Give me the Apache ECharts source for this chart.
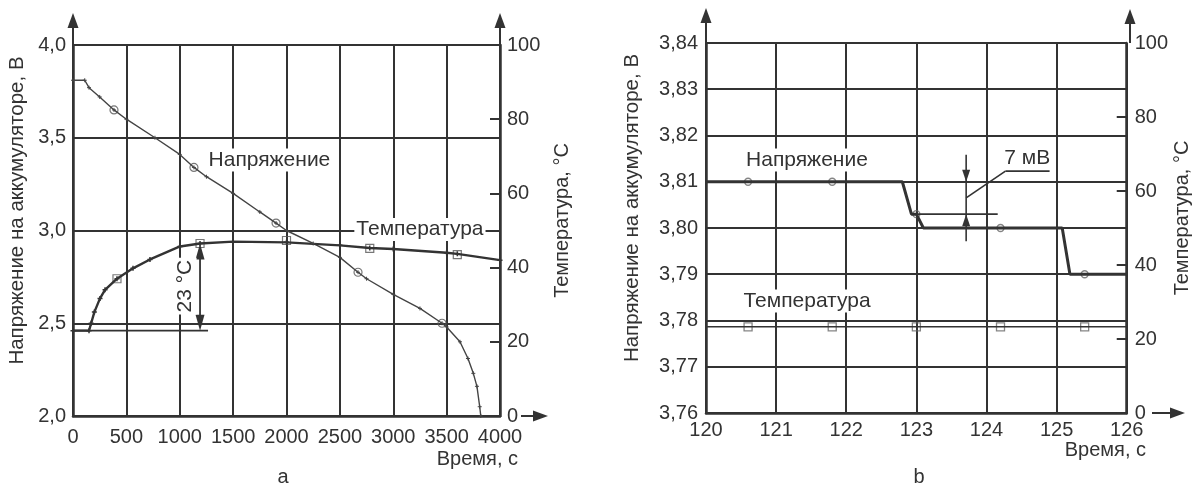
<!DOCTYPE html>
<html>
<head>
<meta charset="utf-8">
<script src="https://cdn.jsdelivr.net/npm/echarts/dist/echarts.min.js"></script>
<style>
  html, body { margin: 0; padding: 0; background: #fff; }
  #main { width: 1193px; height: 488px; }
</style>
</head>
<body>
<div id="main"></div>
<script>
// ---- chart a: full discharge ----
const timeA = [0, 110, 150, 250, 384, 500, 768, 1000, 1133, 1250, 1500, 1750, 1902, 2000, 2250, 2500, 2670, 2750, 3000, 3250, 3457, 3500, 3625, 3700, 3750, 3784, 3810, 3820];
const voltA = [3.81, 3.81, 3.77, 3.72, 3.65, 3.60, 3.50, 3.41, 3.34, 3.29, 3.20, 3.10, 3.04, 3.00, 2.93, 2.855, 2.775, 2.74, 2.656, 2.58, 2.50, 2.48, 2.40, 2.31, 2.23, 2.16, 2.05, 2.0];
const voltMarkTimeA = [384, 1133, 1902, 2670, 3457];
const voltMarkA = [3.65, 3.34, 3.04, 2.775, 2.50];

const tempTimeA = [0, 150, 170, 200, 253, 300, 412, 562, 721, 1002, 1190, 1500, 2000, 2500, 2780, 3000, 3500, 3600, 4000];
const tempA = [23, 23, 25, 28, 31.7, 34, 37, 39.8, 42.2, 45.7, 46.5, 47, 46.8, 46, 45.3, 45, 44, 43.7, 42];
const tempMarkTimeA = [412, 1190, 2000, 2780, 3600];
const tempMarkA = [37, 46.5, 47.3, 45.2, 43.5];

// ---- chart b: zoom around 120..126 s ----
const timeB = [120, 122.8, 122.93, 123.0, 123.1, 125.08, 125.19, 126];
const voltB = [3.81, 3.81, 3.803, 3.803, 3.80, 3.80, 3.79, 3.79];
const markTimeB = [120.6, 121.8, 123.0, 124.2, 125.4];
const voltMarkB = [3.81, 3.81, 3.803, 3.80, 3.79];
const tempTimeB = [120, 126];
const tempB = [23.3, 23.3];
const tempMarkB = [23.3, 23.3, 23.3, 23.3, 23.3];

const zip = (a, b) => a.map((v, i) => [v, b[i]]);

const INK = '#333';
const FONT = 'Liberation Sans, Arial, sans-serif';
const FS = 20;

const G0 = { left: 73, top: 45, width: 427, height: 371 };
const G1 = { left: 706, top: 43, width: 424, height: 370 };

const comma = d => v => v.toFixed(d).replace('.', ',');

function xAx(gi, min, max, interval, margin) {
  return {
    type: 'value', gridIndex: gi, min, max, interval,
    axisLine: { show: true, lineStyle: { color: INK, width: 2.5 } },
    axisTick: { show: false },
    splitLine: { show: true, lineStyle: { color: INK, width: 2 } },
    axisLabel: { color: INK, fontSize: FS, fontFamily: FONT, margin, showMinLabel: true, showMaxLabel: true, formatter: v => String(v) }
  };
}
function yVolt(gi, min, max, interval, dec, gap, margin) {
  return {
    type: 'value', gridIndex: gi, position: 'left', min, max, interval,
    name: 'Напряжение на аккумуляторе, В', nameLocation: 'middle', nameRotate: 90, nameGap: gap,
    nameTextStyle: { color: INK, fontSize: 20.5, fontFamily: FONT, padding: [0, 0, 0, 40] },
    axisLine: { show: true, onZero: false, lineStyle: { color: INK, width: 2.5 } },
    axisTick: { show: false },
    splitLine: { show: true, lineStyle: { color: INK, width: 2 } },
    axisLabel: { color: INK, fontSize: FS, fontFamily: FONT, margin, formatter: comma(dec) }
  };
}
function yTemp(gi, gap, margin) {
  return {
    type: 'value', gridIndex: gi, position: 'right', min: 0, max: 100, interval: 20,
    name: 'Температура, °C', nameLocation: 'middle', nameRotate: 90, nameGap: gap,
    nameTextStyle: { color: INK, fontSize: FS, fontFamily: FONT, padding: [0, 0, 0, 20] },
    axisLine: { show: true, onZero: false, lineStyle: { color: INK, width: 2.5 } },
    axisTick: { show: true, inside: true, length: 10, lineStyle: { color: INK, width: 2 } },
    splitLine: { show: false },
    axisLabel: { color: INK, fontSize: FS, fontFamily: FONT, margin }
  };
}

const cross = 'path://M0,5L10,5M5,0L5,10';

const option = {
  backgroundColor: '#fff',
  animation: false,
  grid: [G0, G1],
  xAxis: [xAx(0, 0, 4000, 500, 11), xAx(1, 120, 126, 1, 7)],
  yAxis: [
    yVolt(0, 2, 4, 0.5, 1, 45, 7),
    yTemp(0, 52, 7),
    yVolt(1, 3.76, 3.84, 0.01, 2, 63, 8),
    yTemp(1, 45, 8)
  ],
  series: [
    {
      type: 'line', xAxisIndex: 0, yAxisIndex: 0, data: zip(timeA, voltA),
      lineStyle: { color: '#444', width: 1.4 }, symbol: cross, symbolSize: 4,
      itemStyle: { color: '#444', borderColor: '#444', borderWidth: 1 }
    },
    {
      type: 'scatter', xAxisIndex: 0, yAxisIndex: 0, data: zip(voltMarkTimeA, voltMarkA),
      symbol: 'circle', symbolSize: 8,
      itemStyle: { color: 'rgba(0,0,0,0)', borderColor: '#555', borderWidth: 1.2 }
    },
    {
      type: 'line', xAxisIndex: 0, yAxisIndex: 1, data: zip(tempTimeA, tempA),
      lineStyle: { color: '#333', width: 2.4 }, symbol: cross, symbolSize: 5,
      itemStyle: { color: '#333', borderColor: '#333', borderWidth: 1.5 }
    },
    {
      type: 'scatter', xAxisIndex: 0, yAxisIndex: 1, data: zip(tempMarkTimeA, tempMarkA),
      symbol: 'rect', symbolSize: 8,
      itemStyle: { color: 'rgba(0,0,0,0)', borderColor: '#555', borderWidth: 1.2 }
    },
    {
      type: 'line', xAxisIndex: 1, yAxisIndex: 2, data: zip(timeB, voltB),
      lineStyle: { color: '#333', width: 3 }, symbol: 'none'
    },
    {
      type: 'scatter', xAxisIndex: 1, yAxisIndex: 2, data: zip(markTimeB, voltMarkB),
      symbol: 'circle', symbolSize: 7,
      itemStyle: { color: 'rgba(0,0,0,0)', borderColor: '#666', borderWidth: 1.3 }
    },
    {
      type: 'line', xAxisIndex: 1, yAxisIndex: 3, data: zip(tempTimeB, tempB),
      lineStyle: { color: '#333', width: 1.6 }, symbol: 'none'
    },
    {
      type: 'scatter', xAxisIndex: 1, yAxisIndex: 3, data: zip(markTimeB, tempMarkB),
      symbol: 'rect', symbolSize: 8,
      itemStyle: { color: 'rgba(0,0,0,0)', borderColor: '#666', borderWidth: 1.3 }
    }
  ]
};

const chart = echarts.init(document.getElementById('main'));
chart.setOption(option);

// ---- annotations, placed through the axes ----
const px = (xi, yi, x, y) => chart.convertToPixel({ xAxisIndex: xi, yAxisIndex: yi }, [x, y]);

function line(a, b, w) {
  return { type: 'line', z: 100, shape: { x1: a[0], y1: a[1], x2: b[0], y2: b[1] }, style: { stroke: INK, lineWidth: w || 1.5 } };
}
function head(tip, dir, len, half) {
  // dir: 'up' | 'down' | 'right'
  let pts;
  if (dir === 'up') pts = [[tip[0], tip[1]], [tip[0] - half, tip[1] + len], [tip[0] + half, tip[1] + len]];
  else if (dir === 'down') pts = [[tip[0], tip[1]], [tip[0] - half, tip[1] - len], [tip[0] + half, tip[1] - len]];
  else pts = [[tip[0], tip[1]], [tip[0] - len, tip[1] - half], [tip[0] - len, tip[1] + half]];
  return { type: 'polygon', z: 100, shape: { points: pts }, style: { fill: INK } };
}
function label(p, text, extra) {
  return {
    type: 'text', z: 101, x: p[0], y: p[1], rotation: (extra && extra.rotation) || 0,
    style: Object.assign({ text, fill: INK, font: '21px ' + FONT, align: 'center', verticalAlign: 'middle', backgroundColor: '#fff', padding: [1, 2] }, (extra && extra.style) || {})
  };
}

const g = [];

// axis arrows
[[G0.left, G0.top, 13], [G0.left + G0.width, G0.top, 13], [G1.left, G1.top, 8], [G1.left + G1.width, G1.top, 9]].forEach(([x, top, tip]) => {
  g.push(line([x, top], [x, tip + 12], 2));
  g.push(head([x, tip], 'up', 15, 5.5));
});
const yb0 = G0.top + G0.height, yb1 = G1.top + G1.height;
g.push(line([G0.left + G0.width + 21, yb0], [548 - 12, yb0], 2));
g.push(head([548, yb0], 'right', 15, 5.5));
g.push(line([G1.left + G1.width + 22, yb1], [1185 - 12, yb1], 2));
g.push(head([1185, yb1], 'right', 15, 5.5));

// chart a labels
g.push(label(px(0, 0, 1840, 3.38), 'Напряжение'));
g.push(label(px(0, 0, 3250, 3.005), 'Температура'));
// 23 °C dimension
g.push(line(px(0, 1, 0, 23), px(0, 1, 1265, 23), 1.8));
const dTop = px(0, 1, 1190, 46.5), dBot = px(0, 1, 1190, 23);
g.push(line([dTop[0], dTop[1] + 10], [dBot[0], dBot[1] - 10], 1.8));
g.push(head(dTop, 'up', 16, 4.5));
g.push(head(dBot, 'down', 16, 4.5));
g.push(label(px(0, 1, 1050, 35), '23 °C', { rotation: Math.PI / 2 }));

// chart b labels
g.push(label(px(1, 2, 121.44, 3.8147), 'Напряжение'));
g.push(label(px(1, 2, 121.44, 3.7842), 'Температура'));
// 7 mV dimension
g.push(line(px(1, 2, 122.95, 3.803), px(1, 2, 124.16, 3.803), 1.6));
const m1 = px(1, 2, 123.71, 3.81), m2 = px(1, 2, 123.71, 3.803);
g.push(line([m1[0], m1[1] - 27], [m2[0], m2[1] + 27], 1.6));
g.push(head(m1, 'down', 12, 4));
g.push(head(m2, 'up', 12, 4));
const l1 = px(1, 2, 123.71, 3.8065), l2 = px(1, 2, 124.27, 3.8123), l3 = px(1, 2, 124.9, 3.8123);
g.push(line(l1, l2, 1.6));
g.push(line(l2, l3, 1.6));
g.push(label(px(1, 2, 124.58, 3.8151), '7 мВ', { style: { backgroundColor: null } }));

// axis titles and captions
g.push(label([520, 459], 'Время, с', { style: { align: 'right', backgroundColor: null, font: FS + 'px ' + FONT } }));
g.push(label([1148, 450], 'Время, с', { style: { align: 'right', backgroundColor: null, font: FS + 'px ' + FONT } }));
g.push(label([283, 477], 'a', { style: { backgroundColor: null, font: FS + 'px ' + FONT } }));
g.push(label([919, 477], 'b', { style: { backgroundColor: null, font: FS + 'px ' + FONT } }));

chart.setOption({ graphic: g });
</script>
</body>
</html>
